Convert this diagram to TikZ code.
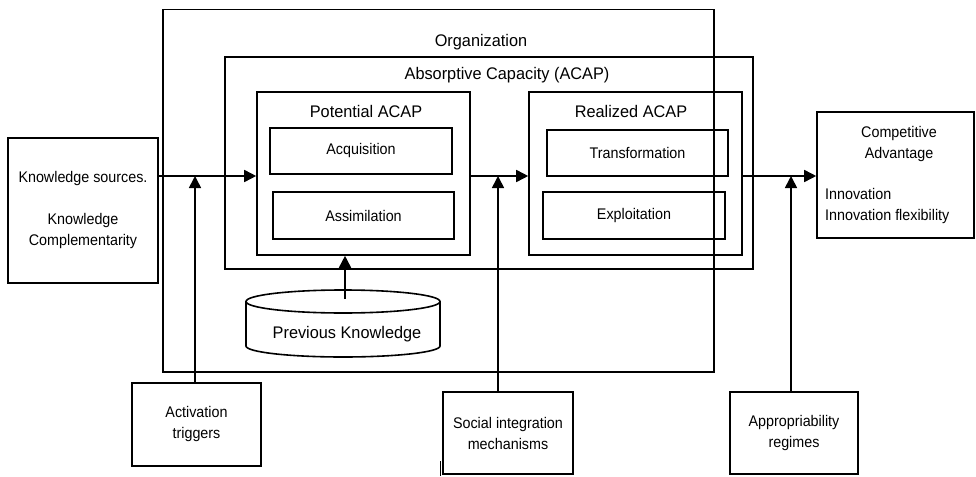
\documentclass[tikz,border=0pt]{standalone}
\usepackage{fontspec}
\setmainfont{Liberation Sans}
\newfontfamily\bodyfont[FakeStretch=0.93]{Liberation Sans}
\newfontfamily\titlefont[FakeStretch=0.97]{Liberation Sans}
\usetikzlibrary{arrows.meta}

\tikzset{
  ln/.style={line width=1.6pt},
  box/.style={draw, ln, inner sep=0pt, align=center,
    font=\bodyfont\fontsize{15.4}{21}\selectfont},
  ttl/.style={inner sep=0pt, anchor=base, font=\titlefont\fontsize{16.8}{20}\selectfont},
  txt/.style={inner sep=0pt, font=\bodyfont\fontsize{15.4}{21}\selectfont},
  arr/.style={ln, -{Triangle[length=12pt,width=12pt]}},
}

\begin{document}
\begin{tikzpicture}[x=1pt, y=-1pt]
\useasboundingbox (0,0) rectangle (976,476);

% organisation and absorptive capacity frames
\node[box, minimum width=551pt, minimum height=362.5pt] (org) at (438.5,190.75) {};
\node[ttl] (orgt) at (481,47) {Organization};
\node[box, minimum width=528pt, minimum height=212pt] (acap) at (489,163) {};
\node[ttl] (acapt) at (507,80) {Absorptive Capacity (ACAP)};

% potential ACAP
\node[box, minimum width=213pt, minimum height=163pt] (pot) at (363.5,173.5) {};
\node[ttl] (pott) at (366,117.5) {Potential ACAP};
\node[box, minimum width=182pt, minimum height=46pt] (acq) at (361,151) {Acquisition};
\node[box, minimum width=181pt, minimum height=47pt] (asm) at (363.5,215.5) {Assimilation};

% realized ACAP
\node[box, minimum width=213pt, minimum height=163pt] (real) at (635.5,173.5) {};
\node[ttl] (realt) at (631,117.5) {Realized ACAP};
\node[box, minimum width=181pt, minimum height=46pt] (trf) at (637.5,153) {Transformation};
\node[box, minimum width=182pt, minimum height=47pt] (expl) at (634,215.5) {Exploitation};

% inputs and outcome
\node[box, minimum width=150pt, minimum height=145pt] (ks) at (83,210.5)
  {Knowledge sources.\\[21pt]Knowledge\\Complementarity};
\node[box, minimum width=157pt, minimum height=126pt] (comp) at (895.5,175) {};
\node[txt, align=center] (compt) at (899,144.5) {Competitive\\Advantage};
\node[txt, align=left, anchor=west] (compi) at (825,206.5) {Innovation\\Innovation flexibility};

% moderators
\node[box, minimum width=129pt, minimum height=83pt] (act) at (196.5,424.5) {Activation\\triggers};
\node[box, minimum width=130pt, minimum height=82pt] (soc) at (508,433) {Social integration\\mechanisms};
\node[box, minimum width=128pt, minimum height=82pt] (app) at (794,433) {Appropriability\\regimes};

% previous knowledge store
\draw[ln] (343,301.5) ellipse [x radius=97pt, y radius=11.5pt];
\draw[ln] (246,301.5) -- (246,346)
  arc [start angle=180, end angle=360, x radius=97pt, y radius=11pt] -- (440,301.5);
\node[ttl] (prev) at (347,338) {Previous Knowledge};
\coordinate (pk) at (345,299);

% junctions on the main flow
\coordinate (j1) at (195,176);
\coordinate (j2) at (498,176);
\coordinate (j3) at (791,176);

% main flow
\draw[arr] (ks.east |- j1) -- (pot.west |- j1);
\draw[arr] (pot.east |- j2) -- (real.west |- j2);
\draw[arr] (real.east |- j3) -- (comp.west |- j3);

% moderating effects
\draw[arr] (j1 |- act.north) -- (j1);
\draw[arr] (j2 |- soc.north) -- (j2);
\draw[arr] (j3 |- app.north) -- (j3);
\draw[arr] (pk) -- (pk |- pot.south);

% small tick beside the social integration box
\draw[line width=1pt] (440,461) -- (440,476);
\end{tikzpicture}
\end{document}
